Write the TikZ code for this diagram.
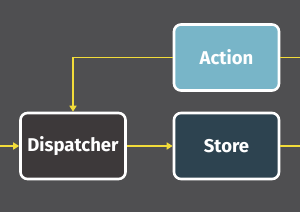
\documentclass[tikz,border=0pt]{standalone}
\usepackage{fontspec}
\setmainfont{Fira Sans}
\usetikzlibrary{arrows.meta}
\definecolor{bg}{HTML}{4F4F51}
\definecolor{actionc}{HTML}{78B5C8}
\definecolor{dispc}{HTML}{3D393A}
\definecolor{storec}{HTML}{2D4350}
\definecolor{flow}{HTML}{F2DC3A}
\tikzset{
  box/.style={draw=white, line width=2.6pt, rounded corners=7pt, minimum width=105pt, minimum height=66pt, inner sep=0pt, text=white, font=\fontsize{18.5}{20}\selectfont\bfseries},
  conn/.style={draw=flow, line width=1.6pt},
  arr/.style={conn, -{Triangle[length=6pt,width=7pt]}}
}
\begin{document}
\begin{tikzpicture}[x=1pt,y=-1pt]
\fill[bg] (0,0) rectangle (300,212);
\useasboundingbox (0,0) rectangle (300,212);
\node[box, fill=actionc] (action) at (226.5,57.5) {Action};
\node[box, fill=dispc] (disp) at (73,146) {Dispatcher};
\node[box, fill=storec] (store) at (226.5,146) {Store};
\coordinate (lin) at (0,146);
\coordinate (rout1) at (300,57.5);
\coordinate (rout2) at (300,146);
\coordinate (corner) at (73,57.5);
\draw[conn] (action.east) -- (rout1);
\draw[conn] (store.east) -- (rout2);
\draw[arr] (action.west) -- (corner) -- (disp.north);
\draw[arr] (lin) -- (disp.west);
\draw[arr] (disp.east) -- (store.west);
\end{tikzpicture}
\end{document}
